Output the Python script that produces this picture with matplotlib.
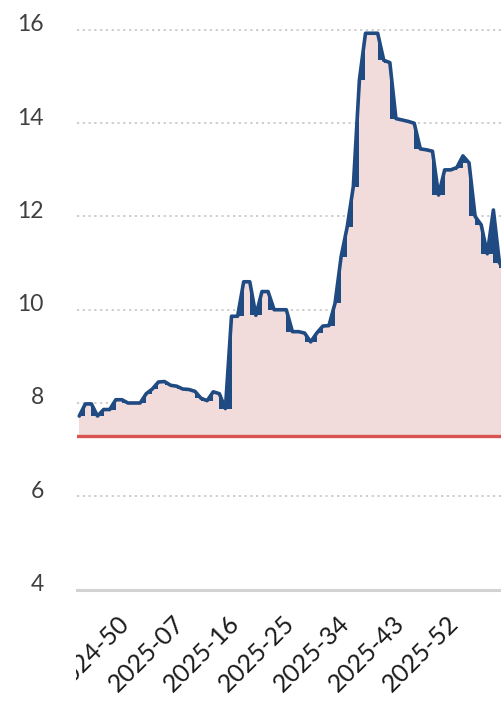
import matplotlib
matplotlib.use("Agg")
import matplotlib.pyplot as plt
import matplotlib.transforms as mtransforms
import numpy as np

# ---- data -------------------------------------------------------------
# ISO weeks 2024-42 ... 2026-08 (category axis)
weeks = ([f"2024-{w:02d}" for w in range(42, 53)] +
         [f"2025-{w:02d}" for w in range(1, 53)] +
         [f"2026-{w:02d}" for w in range(1, 9)])

values = [7.72, 7.98, 7.98, 7.72, 7.86, 7.86, 8.07, 8.07,      # 2024-42 .. 2024-49
          8.00, 8.00, 8.00, 8.20, 8.30, 8.45, 8.46, 8.38,      # 2024-50 .. 2025-05
          8.36, 8.30, 8.29, 8.25, 8.10, 8.05, 8.24, 8.20,      # 2025-06 .. 2025-13
          7.88, 9.86, 9.86, 10.60, 10.60, 9.88, 10.39, 10.39,  # 2025-14 .. 2025-21
          10.00, 10.00, 10.00, 9.53, 9.53, 9.50, 9.31, 9.50,   # 2025-22 .. 2025-29
          9.65, 9.66, 10.14, 11.14, 11.78, 12.64, 14.93, 15.93, # 2025-30 .. 2025-37
          15.93, 15.93, 15.35, 15.30, 14.10, 14.07, 14.04, 14.00, # 2025-38 .. 2025-45
          13.45, 13.43, 13.40, 12.46, 13.00, 13.00, 13.05, 13.30, # 2025-46 .. 2026-01
          13.15, 12.00, 11.82, 11.20, 12.14, 11.00, 10.90]     # 2026-02 .. 2026-08

baseline = 7.3
tick_labels = ["2024-50", "2025-07", "2025-16", "2025-25", "2025-34", "2025-43", "2025-52"]
y_ticks = [4, 6, 8, 10, 12, 14, 16]

# ---- figure -----------------------------------------------------------
plt.rcParams['font.family'] = ['Lato', 'DejaVu Sans']

W, H = 501, 703
fig = plt.figure(figsize=(W / 100, H / 100), dpi=100)
ax = fig.add_axes([77 / W, (H - 589.5) / H, (W - 77) / W, (589.5 - 6.67) / H])

x = np.arange(len(weeks)) - weeks.index("2024-50")
y = np.array(values)

line_col = "#1F4A82"
fill_col = "#F2DCDB"
red_col = "#D9534F"

# dark layer under the connecting line
ax.fill_between(x, baseline, y, color=line_col, lw=0, zorder=2)
# pink stepped area (level held between weekly points, lower of neighbours)
step_y = np.minimum(y[:-1], y[1:])
ax.fill_between(x, baseline, np.append(step_y, step_y[-1]), step='post',
                color=fill_col, lw=0, zorder=3)
ax.plot(x, y, color=line_col, lw=2.6, solid_joinstyle='round',
        solid_capstyle='round', zorder=5)
ax.axhline(baseline, color=red_col, lw=2.4, zorder=6)

# grid
for v in y_ticks[1:]:
    ax.axhline(v, color="#C8C8C8", lw=1.3, ls=(0, (1.2, 2.0)), zorder=1)
ax.axhline(4, color="#D2D2D2", lw=2.2, zorder=1, clip_on=False)

ax.set_xlim(-8.37, 61.25)
ax.set_ylim(4, 16.5)
for s in ax.spines.values():
    s.set_visible(False)

ax.set_yticks(y_ticks)
ax.set_yticklabels([str(v) for v in y_ticks], fontsize=16.5, color="#404040")
ax.tick_params(axis='y', length=0, pad=24)
off = mtransforms.ScaledTranslation(0, 7 / 100, fig.dpi_scale_trans)
for lab in ax.get_yticklabels():
    lab.set_transform(lab.get_transform() + off)

tick_pos = [weeks.index(t) - weeks.index("2024-50") for t in tick_labels]
ax.set_xticks(tick_pos)
ax.set_xticklabels(tick_labels, rotation=45, ha='right', va='top',
                   rotation_mode='anchor', fontsize=18, color="#1A1A1A")
ax.tick_params(axis='x', length=0, pad=16)
xoff = mtransforms.ScaledTranslation(-10 / 100, 0, fig.dpi_scale_trans)
clip = mtransforms.Bbox([[76, 0], [W, H]])
for lab in ax.get_xticklabels():
    lab.set_transform(lab.get_transform() + xoff)
    lab.set_clip_box(clip)
    lab.set_clip_on(True)

fig.savefig("out.png", dpi=100)
